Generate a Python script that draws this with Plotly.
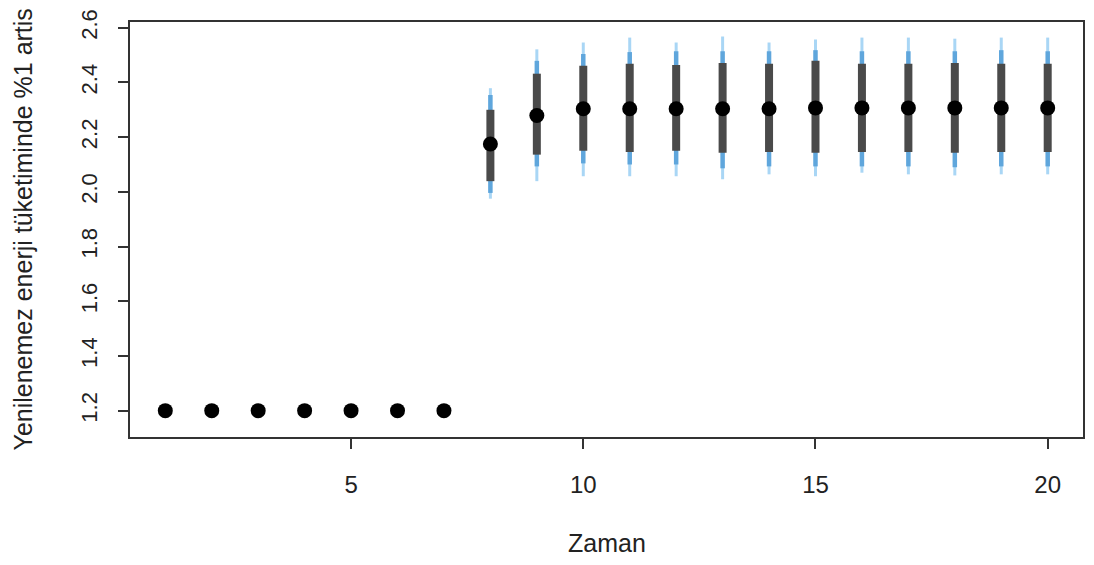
import plotly.graph_objects as go

zaman = list(range(1, 21))
median = [1.2, 1.2, 1.2, 1.2, 1.2, 1.2, 1.2,
          2.175, 2.279, 2.304, 2.304, 2.304, 2.304, 2.304, 2.307, 2.307, 2.307, 2.307, 2.307, 2.307]
outer_lo = [1.2] * 7 + [1.975, 2.039, 2.057, 2.057, 2.057, 2.046, 2.064, 2.057, 2.070, 2.064, 2.060, 2.064, 2.064]
outer_hi = [1.2] * 7 + [2.379, 2.521, 2.546, 2.564, 2.546, 2.568, 2.546, 2.557, 2.564, 2.564, 2.560, 2.564, 2.564]
mid_lo = [1.2] * 7 + [1.996, 2.093, 2.104, 2.100, 2.100, 2.086, 2.093, 2.093, 2.093, 2.093, 2.090, 2.093, 2.093]
mid_hi = [1.2] * 7 + [2.354, 2.479, 2.504, 2.511, 2.514, 2.514, 2.514, 2.518, 2.514, 2.514, 2.514, 2.518, 2.514]
inner_lo = [1.2] * 7 + [2.039, 2.136, 2.150, 2.146, 2.150, 2.143, 2.146, 2.143, 2.146, 2.146, 2.143, 2.146, 2.146]
inner_hi = [1.2] * 7 + [2.300, 2.432, 2.461, 2.468, 2.464, 2.471, 2.468, 2.479, 2.468, 2.468, 2.471, 2.468, 2.468]

y_ticks = [1.2, 1.4, 1.6, 1.8, 2.0, 2.2, 2.4, 2.6]
x_ticks = [5, 10, 15, 20]


def segs(lo, hi):
    xs, ys = [], []
    for t, a, b in zip(zaman, lo, hi):
        if b > a:
            xs += [t, t, None]
            ys += [a, b, None]
    return xs, ys


fig = go.Figure()
for lo, hi, col, w in [(outer_lo, outer_hi, "#a9d6f5", 3),
                        (mid_lo, mid_hi, "#5fa6dc", 4.5),
                        (inner_lo, inner_hi, "#4a4a4a", 8)]:
    xs, ys = segs(lo, hi)
    fig.add_trace(go.Scatter(x=xs, y=ys, mode="lines",
                             line=dict(color=col, width=w),
                             hoverinfo="skip", showlegend=False))

fig.add_trace(go.Scatter(x=zaman, y=median, mode="markers",
                         marker=dict(color="black", size=15, symbol="circle"),
                         showlegend=False))

fam = "Liberation Sans, Arial, sans-serif"
xfont = dict(family=fam, size=24, color="#222222")
yfont = dict(family=fam, size=22, color="#222222")
tfont = dict(family=fam, size=25, color="#222222")

fig.update_layout(
    width=1094, height=565,
    margin=dict(l=130, r=9, t=12, b=128),
    paper_bgcolor="white", plot_bgcolor="white",
    xaxis=dict(range=[0.24, 20.76], tickvals=x_ticks, ticks="outside", ticklen=10,
               tickcolor="#333333", tickwidth=1.5, tickfont=xfont,
               showline=True, linecolor="#333333", linewidth=1.5, mirror=True,
               showgrid=False, zeroline=False, ticklabelstandoff=15,
               ticklabeloverflow="allow"),
    yaxis=dict(range=[1.1036, 2.621], tickvals=y_ticks,
               ticktext=[f"{v:.1f}" for v in y_ticks],
               ticks="outside", ticklen=10, tickangle=-90, tickfont=yfont,
               tickcolor="#333333", tickwidth=1.5,
               showline=True, linecolor="#333333", linewidth=1.5, mirror=True,
               showgrid=False, zeroline=False, ticklabelstandoff=12,
               ticklabeloverflow="allow"),
    annotations=[
        dict(text="Zaman", xref="paper", yref="paper", x=0.5, y=0, yshift=-106,
             showarrow=False, font=tfont, xanchor="center", yanchor="middle"),
        dict(text="Yenilenemez enerji tüketiminde %1 artis", xref="paper", yref="paper",
             x=0, y=0.5, xshift=-108, textangle=-90, showarrow=False, font=tfont,
             xanchor="center", yanchor="middle"),
    ],
)

fig.write_html("out.html")
